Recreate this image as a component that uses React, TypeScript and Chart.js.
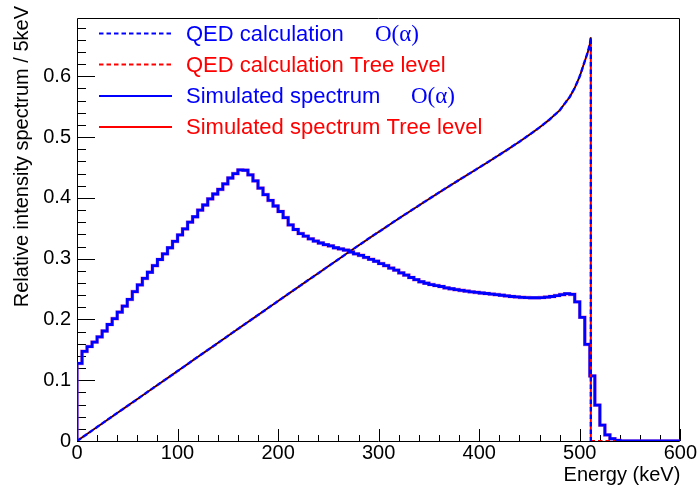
import { useEffect, useRef } from 'react';
import { Chart, registerables } from 'chart.js';

Chart.register(...registerables);

// Detector-level spectrum, 5 keV bins from 0 to 600 keV (bin contents)
const BIN_WIDTH = 5;
const simulatedBins = [
  0.1276, 0.1474, 0.1554, 0.1628, 0.1714, 0.1810, 0.1917, 0.2013, 0.2120, 0.2220,
  0.2329, 0.2457, 0.2569, 0.2676, 0.2777, 0.2885, 0.2986, 0.3080, 0.3180, 0.3285,
  0.3390, 0.3490, 0.3600, 0.3690, 0.3798, 0.3883, 0.3984, 0.4064, 0.4140, 0.4230,
  0.4327, 0.4400, 0.4460, 0.4455, 0.4380, 0.4280, 0.4160, 0.4054, 0.3958, 0.3867,
  0.3776, 0.3675, 0.3555, 0.3480, 0.3413, 0.3370, 0.3327, 0.3290, 0.3258, 0.3230,
  0.3210, 0.3180, 0.3160, 0.3140, 0.3110, 0.3080, 0.3054, 0.3020, 0.2990, 0.2958,
  0.2920, 0.2885, 0.2846, 0.2810, 0.2766, 0.2730, 0.2690, 0.2654, 0.2620, 0.2596,
  0.2574, 0.2558, 0.2542, 0.2520, 0.2505, 0.2490, 0.2478, 0.2466, 0.2455, 0.2445,
  0.2435, 0.2427, 0.2418, 0.2408, 0.2398, 0.2388, 0.2378, 0.2370, 0.2364, 0.2360,
  0.2357, 0.2357, 0.2360, 0.2367, 0.2378, 0.2393, 0.2408, 0.2424, 0.2412, 0.2290,
  0.2035, 0.1590, 0.1070, 0.0590, 0.0260, 0.0100, 0.0037, 0.0010, 0, 0,
  0, 0, 0, 0, 0, 0, 0, 0, 0, 0,
];

// Three-photon energy spectrum (QED calculation), keV -> relative intensity
const qedEnergy = [
  0, 10, 20, 30, 40, 50, 60, 70, 80, 90,
  100, 110, 120, 130, 140, 150, 160, 170, 180, 190,
  200, 210, 220, 230, 240, 250, 260, 270, 280, 290,
  300, 310, 320, 330, 340, 350, 360, 370, 380, 390,
  400, 410, 420, 430, 440, 450, 460, 470, 480, 490,
  495, 500, 505, 508, 510, 511,
];
const qedValues = [
  0, 0.0115, 0.0230, 0.0345, 0.0460, 0.0575, 0.0690, 0.0805, 0.0920, 0.1035,
  0.1150, 0.1266, 0.1382, 0.1497, 0.1612, 0.1728, 0.1843, 0.1958, 0.2073, 0.2188,
  0.2303, 0.2418, 0.2533, 0.2648, 0.2762, 0.2877, 0.2990, 0.3105, 0.3218, 0.3330,
  0.3440, 0.3550, 0.3660, 0.3768, 0.3875, 0.3982, 0.4088, 0.4192, 0.4295, 0.4398,
  0.4500, 0.4603, 0.4708, 0.4815, 0.4925, 0.5040, 0.5160, 0.5290, 0.5440, 0.5660,
  0.5810, 0.6000, 0.6250, 0.6400, 0.6530, 0.6640,
];
const ENDPOINT_KEV = 511;

const xTickValues = [0, 100, 200, 300, 400, 500, 600];
const yTickValues = [0, 0.1, 0.2, 0.3, 0.4, 0.5, 0.6];
const X_MAX = 600;
const Y_MAX = 0.696;

const legendLabels = [
  'QED calculation',
  'QED calculation Tree level',
  'Simulated spectrum',
  'Simulated spectrum Tree level',
];
const orderLabel = 'O(α)';
const xTitle = 'Energy (keV)';
const yTitle = 'Relative intensity spectrum / 5keV';

const W = 697;
const H = 489;
const BLUE = '#0000ff';
const RED = '#ff0000';
const SANS = '"Liberation Sans", Arial, sans-serif';
const SERIF = '"Liberation Serif", "Times New Roman", serif';

function histogramPoints(bins: number[]) {
  const pts: { x: number; y: number }[] = [{ x: 0, y: 0 }];
  bins.forEach((v, i) => pts.push({ x: i * BIN_WIDTH, y: v }));
  pts.push({ x: bins.length * BIN_WIDTH, y: bins[bins.length - 1] });
  return pts;
}

function curvePoints(withDrop: boolean) {
  const pts = qedEnergy.map((e, i) => ({ x: e, y: qedValues[i] }));
  if (withDrop) pts.push({ x: ENDPOINT_KEV, y: 0 });
  return pts;
}

const framePlugin = {
  id: 'rootFrame',
  beforeDatasetsDraw(chart: any) {
    const { ctx, chartArea: a, scales } = chart;
    const xs = scales.x;
    const ys = scales.y;
    ctx.save();
    ctx.strokeStyle = '#000';
    ctx.lineWidth = 1;
    ctx.beginPath();
    ctx.rect(Math.round(a.left) + 0.5, Math.round(a.top) + 0.5, Math.round(a.right - a.left) - 1, Math.round(a.bottom - a.top));
    ctx.stroke();
    ctx.beginPath();
    // x ticks, pointing inward
    for (let v = 0; v <= X_MAX + 1e-9; v += 20) {
      const px = Math.round(xs.getPixelForValue(v)) + 0.5;
      const len = v % 100 === 0 ? 12 : 6;
      ctx.moveTo(px, a.bottom);
      ctx.lineTo(px, a.bottom - len);
    }
    // y ticks, pointing inward
    for (let i = 0; i * 0.02 <= Y_MAX; i++) {
      const v = i * 0.02;
      const py = Math.round(ys.getPixelForValue(v)) + 0.5;
      const len = i % 5 === 0 ? 18 : 9;
      ctx.moveTo(a.left, py);
      ctx.lineTo(a.left + len, py);
    }
    ctx.stroke();
    ctx.restore();
  },
  afterDraw(chart: any) {
    const { ctx, chartArea: a } = chart;
    ctx.save();
    ctx.fillStyle = '#000';
    // axis titles
    ctx.font = `20px ${SANS}`;
    ctx.textAlign = 'right';
    ctx.textBaseline = 'alphabetic';
    ctx.fillText(xTitle, a.right, 481);
    ctx.translate(28, 6);
    ctx.rotate(-Math.PI / 2);
    ctx.fillText(yTitle, 0, 0);
    ctx.restore();

    // legend
    ctx.save();
    const rows = [33.5, 64.5, 96, 127];
    const colors = [BLUE, RED, BLUE, RED];
    const dashed = [true, true, false, false];
    const orderX = [375, null, 411, null];
    rows.forEach((y, i) => {
      ctx.strokeStyle = colors[i];
      ctx.lineWidth = 2;
      ctx.setLineDash(dashed[i] ? [4.5, 3] : []);
      ctx.beginPath();
      ctx.moveTo(99, y);
      ctx.lineTo(172, y);
      ctx.stroke();
      ctx.setLineDash([]);
      ctx.fillStyle = colors[i];
      ctx.textAlign = 'left';
      ctx.textBaseline = 'middle';
      ctx.font = `22px ${SANS}`;
      ctx.fillText(legendLabels[i], 186, y + 1);
      const ox = orderX[i];
      if (ox !== null) {
        ctx.font = `23px ${SERIF}`;
        ctx.fillText(orderLabel, ox, y + 1);
      }
    });
    ctx.restore();
  },
};

export default function App() {
  const ref = useRef<HTMLCanvasElement>(null);

  useEffect(() => {
    const canvas = ref.current;
    if (!canvas) return;
    const hist = histogramPoints(simulatedBins);
    const chart = new Chart(canvas, {
      type: 'line',
      data: {
        datasets: [
          {
            label: 'QED calculation O(α)',
            data: curvePoints(true),
            borderColor: BLUE,
            borderWidth: 2.4,
            borderDash: [4.5, 3],
            pointRadius: 0,
            tension: 0,
            order: 1,
          },
          {
            label: 'reference line',
            data: curvePoints(false),
            borderColor: '#000000',
            borderWidth: 1.2,
            pointRadius: 0,
            tension: 0,
            order: 2,
          },
          {
            label: 'QED calculation Tree level',
            data: [...curvePoints(true), { x: 535, y: 0 }],
            borderColor: RED,
            borderWidth: 2,
            borderDash: [4.5, 3],
            borderDashOffset: 3.75,
            pointRadius: 0,
            tension: 0,
            order: 3,
          },
          {
            label: 'Simulated spectrum O(α)',
            data: hist,
            borderColor: BLUE,
            borderWidth: 2.8,
            stepped: 'before',
            pointRadius: 0,
            order: 4,
          },
          {
            label: 'Simulated spectrum Tree level',
            data: hist,
            borderColor: 'rgba(220,60,160,0.6)',
            borderWidth: 3.6,
            stepped: 'before',
            pointRadius: 0,
            order: 5,
          },
        ],
      },
      options: {
        responsive: false,
        animation: false,
        devicePixelRatio: 1,
        parsing: true,
        layout: { padding: { top: 7, right: 16, left: 0, bottom: 0 } },
        plugins: {
          legend: { display: false },
          tooltip: { enabled: false },
        },
        scales: {
          x: {
            type: 'linear',
            min: 0,
            max: X_MAX,
            grid: { display: false, drawTicks: false },
            border: { display: false },
            afterFit: (s: any) => {
              s.height = 48;
            },
            afterBuildTicks: (s: any) => {
              s.ticks = xTickValues.map((v) => ({ value: v }));
            },
            ticks: {
              color: '#000',
              font: { family: SANS, size: 20 },
              padding: 0,
              maxRotation: 0,
              autoSkip: false,
              callback: (v: any) => String(v),
            },
          },
          y: {
            type: 'linear',
            min: 0,
            max: Y_MAX,
            grid: { display: false, drawTicks: false },
            border: { display: false },
            afterFit: (s: any) => {
              s.width = 77;
            },
            afterBuildTicks: (s: any) => {
              s.ticks = yTickValues.map((v) => ({ value: v }));
            },
            ticks: {
              color: '#000',
              font: { family: SANS, size: 20 },
              padding: 6,
              autoSkip: false,
              callback: (v: any) => (Number(v) === 0 ? '0' : Number(v).toFixed(1)),
            },
          },
        },
      },
      plugins: [framePlugin],
    });
    return () => chart.destroy();
  }, []);

  return (
    <div style={{ position: 'fixed', left: 0, top: 0, width: W, height: H, background: '#fff' }}>
      <canvas ref={ref} width={W} height={H} style={{ display: 'block', width: W, height: H }} />
    </div>
  );
}
